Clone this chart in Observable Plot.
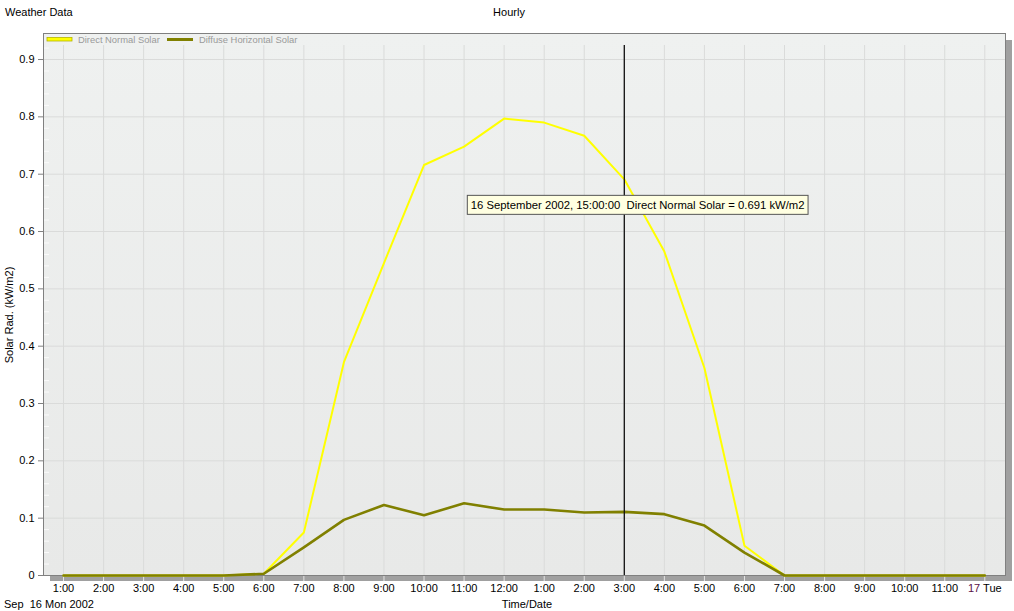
<!DOCTYPE html>
<html>
<head>
<meta charset="utf-8">
<script src="https://cdn.jsdelivr.net/npm/d3@7"></script>
<script src="https://cdn.jsdelivr.net/npm/@observablehq/plot@0.6"></script>
<style>
  html, body { margin: 0; padding: 0; background: #fff; }
  #chart { position: relative; width: 1014px; height: 611px; }
</style>
</head>
<body>
<div id="chart"></div>
<script>
// ---------------- data ----------------
const hours = [1,2,3,4,5,6,7,8,9,10,11,12,13,14,15,16,17,18,19,20,21,22,23,24];
const directNormal = [0,0,0,0,0,0.003,0.075,0.372,0.545,0.716,0.748,0.797,0.790,0.767,0.691,0.565,0.362,0.052,0,0,0,0,0,0];
const diffuseHorizontal = [0,0,0,0,0,0.003,0.049,0.097,0.123,0.105,0.126,0.115,0.115,0.110,0.111,0.107,0.087,0.040,0,0,0,0,0,0];
const xTickLabels = ["1:00","2:00","3:00","4:00","5:00","6:00","7:00","8:00","9:00","10:00","11:00","12:00","1:00","2:00","3:00","4:00","5:00","6:00","7:00","8:00","9:00","10:00","11:00","17 Tue"];
const yTicks = [0,0.1,0.2,0.3,0.4,0.5,0.6,0.7,0.8,0.9];
const yMinorTicks = [0.02,0.04,0.06,0.08,0.12,0.14,0.16,0.18,0.22,0.24,0.26,0.28,0.32,0.34,0.36,0.38,0.42,0.44,0.46,0.48,0.52,0.54,0.56,0.58,0.62,0.64,0.66,0.68,0.72,0.74,0.76,0.78,0.82,0.84,0.86,0.88,0.92];
const seriesNames = ["Direct Normal Solar", "Diffuse Horizontal Solar"];
const seriesColors = ["#ffff00", "#808000"];
const cursorHour = 15;
const cursorLabel = "16 September 2002, 15:00:00";
const unit = "kW/m2";

// ---------------- build ----------------
(function () {
const times = hours.map(h => new Date(Date.UTC(2002, 8, 16, h)));
const directRows = times.map((t, i) => ({time: t, value: directNormal[i]}));
const diffuseRows = times.map((t, i) => ({time: t, value: diffuseHorizontal[i]}));
const cursorTime = new Date(Date.UTC(2002, 8, 16, cursorHour));
const cursorValue = directNormal[hours.indexOf(cursorHour)];

const font = "'Liberation Sans', Arial, sans-serif";

const chart = Plot.plot({
  width: 1014,
  height: 611,
  marginLeft: 43,
  marginRight: 9,
  marginTop: 33,
  marginBottom: 36,
  style: {fontFamily: font, fontSize: "11px", background: "transparent", overflow: "visible"},
  x: {type: "utc", domain: [new Date(Date.UTC(2002, 8, 16, 0, 30)), new Date(Date.UTC(2002, 8, 17, 0, 31))], axis: null},
  y: {domain: [0, 0.9454], axis: null},
  marks: [
    Plot.frame({fill: "url(#plotbg)", stroke: null}),
    Plot.gridY(yTicks.slice(1), {stroke: "#dadbda", strokeOpacity: 1}),
    Plot.gridX(times, {stroke: "#dadbda", strokeOpacity: 1, insetTop: 12}),
    Plot.axisY({ticks: yMinorTicks, tickSize: -6, tickFormat: () => "", stroke: "#fbfbfb", label: null}),
    Plot.axisY({ticks: yTicks, tickSize: 5, tickPadding: 4, stroke: "#808080", fill: "#000",
      tickFormat: d => d === 0 ? "0" : d.toFixed(1), label: null, fontSize: 11}),
    Plot.axisX({ticks: times, tickSize: 6, tickPadding: 3, stroke: "#e4e4e4", fill: "#000",
      tickFormat: (d, i) => xTickLabels[i], label: null, fontSize: 11}),
    Plot.frame({stroke: "#808080"}),
    Plot.line(directRows, {x: "time", y: "value", stroke: seriesColors[0], strokeWidth: 2}),
    Plot.line(diffuseRows, {x: "time", y: "value", stroke: seriesColors[1], strokeWidth: 2.6}),
    Plot.ruleX([cursorTime], {stroke: "#111", strokeWidth: 1.3, insetTop: 12})
  ]
});

document.getElementById("chart").appendChild(chart);

const svg = d3.select(chart);
const xs = chart.scale("x"), ys = chart.scale("y");
const pL = xs.range[0], pR = xs.range[1];
const pB = ys.range[0], pT = ys.range[1];

// background gradient
const defs = svg.insert("defs", ":first-child");
const grad = defs.append("linearGradient").attr("id", "plotbg").attr("x1", 0).attr("y1", 0).attr("x2", 0).attr("y2", 1);
grad.append("stop").attr("offset", "0%").attr("stop-color", "#eff1f0");
grad.append("stop").attr("offset", "100%").attr("stop-color", "#e8e9e8");

// shadow (drawn behind everything else)
const shadow = svg.insert("g", "defs + *");
shadow.append("rect").attr("x", pL + 7).attr("y", pB).attr("width", pR - pL).attr("height", 6).attr("fill", "#a0a0a0");
shadow.append("rect").attr("x", pR).attr("y", pT + 7).attr("width", 7).attr("height", pB - pT - 1).attr("fill", "#a0a0a0");

// color the "17" in the last tick label
svg.selectAll("text").filter(function() { return this.textContent === "17 Tue"; }).each(function() {
  const t = d3.select(this);
  t.text(null);
  t.append("tspan").attr("fill", "#5a1048").text("17");
  t.append("tspan").text(" Tue");
});

// legend
const lg = svg.append("g").attr("font-family", font).attr("font-size", 9.4).attr("text-anchor", "start");
lg.append("rect").attr("x", pL + 4).attr("y", pT + 4.5).attr("width", 25).attr("height", 3.5)
  .attr("fill", seriesColors[0]).attr("stroke", "#b5b500").attr("stroke-width", 0.8);
lg.append("text").attr("x", pL + 35).attr("y", pT + 10).attr("fill", "#9a9a9a").text(seriesNames[0]);
lg.append("rect").attr("x", pL + 124).attr("y", pT + 5).attr("width", 26).attr("height", 3)
  .attr("fill", seriesColors[1]);
lg.append("text").attr("x", pL + 156).attr("y", pT + 10).attr("fill", "#9a9a9a").text(seriesNames[1]);

// titles and axis labels
const tg = svg.append("g").attr("font-family", font).attr("font-size", 11).attr("fill", "#000").attr("text-anchor", "start");
tg.append("text").attr("x", 5).attr("y", 16).text("Weather Data");
tg.append("text").attr("x", 509).attr("y", 16).attr("text-anchor", "middle").text("Hourly");
tg.append("text").attr("x", (pL + pR) / 2 + 3).attr("y", 608).attr("text-anchor", "middle").text("Time/Date");
tg.append("text").attr("x", 4).attr("y", 608).style("white-space", "pre").text("Sep  16 Mon 2002");
tg.append("text").attr("transform", `translate(13,${(pT + pB) / 2 + 11}) rotate(-90)`)
  .attr("text-anchor", "middle").text("Solar Rad. (kW/m2)");

// tooltip
const px = xs.apply(cursorTime), py = ys.apply(cursorValue);
const tip = svg.append("g").attr("font-family", font).attr("font-size", 11.3).attr("text-anchor", "start");
const tipRect = tip.append("rect").attr("fill", "#ffffe1").attr("stroke", "#555").attr("stroke-width", 1);
const tipText = tip.append("text").attr("fill", "#000").style("white-space", "pre")
  .attr("x", px - 153).attr("y", py + 30)
  .text(`${cursorLabel}  ${seriesNames[0]} = ${cursorValue.toFixed(3)} ${unit}`);
const tw = tipText.node().getComputedTextLength();
tipRect.attr("x", px - 156.5).attr("y", py + 16.5).attr("width", tw + 7).attr("height", 19);
})();
</script>
</body>
</html>
